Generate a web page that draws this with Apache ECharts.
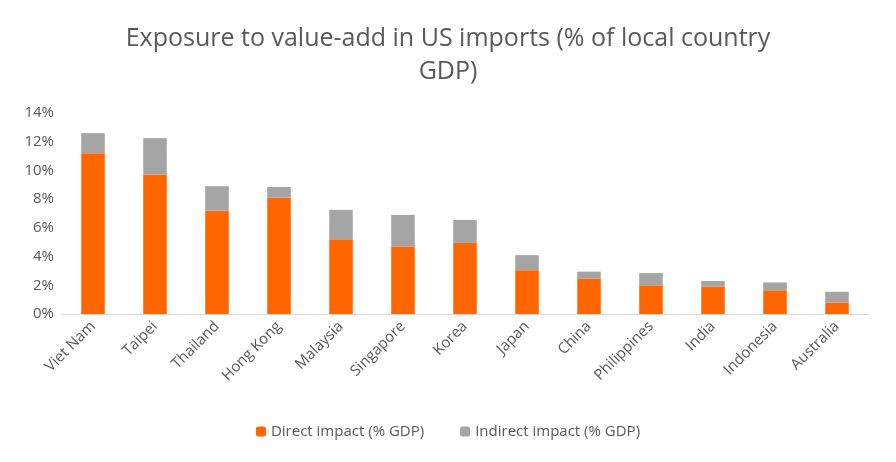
<!DOCTYPE html>
<html><head><meta charset="utf-8">
<script src="https://cdn.jsdelivr.net/npm/echarts@6/dist/echarts.min.js"></script>
<style>html,body{margin:0;padding:0;background:#fff}#c{width:896px;height:462px}</style>
</head><body><div id="c"></div>
<script>
var countries = ['Viet Nam', 'Taipei', 'Thailand', 'Hong Kong', 'Malaysia', 'Singapore', 'Korea', 'Japan', 'China', 'Philippines', 'India', 'Indonesia', 'Australia'];
var direct = [11.2, 9.7, 7.2, 8.1, 5.2, 4.7, 4.95, 3.05, 2.45, 2.0, 1.9, 1.65, 0.8];
var indirect = [1.4, 2.55, 1.7, 0.75, 2.05, 2.2, 1.6, 1.05, 0.5, 0.85, 0.4, 0.55, 0.75];

var myChart = echarts.init(document.getElementById('c'));
var option = {
  textStyle: { fontFamily: 'Open Sans' },
  title: {
    text: 'Exposure to value-add in US imports (% of local country\nGDP)',
    left: 'center', top: 17,
    textStyle: { fontSize: 25, fontWeight: 'normal', color: '#595959', lineHeight: 33 }
  },
  legend: {
    bottom: 18, itemWidth: 10, itemHeight: 10, itemGap: 36,
    textStyle: { fontSize: 15, color: '#595959' },
    data: ['Direct impact (% GDP)', 'Indirect impact (% GDP)']
  },
  grid: { left: 62, right: 28, top: 113, bottom: 148 },
  xAxis: {
    type: 'category', data: countries,
    axisLine: { lineStyle: { color: '#d9d9d9' } },
    axisTick: { show: false },
    axisLabel: { rotate: 45, fontSize: 15, color: '#595959', margin: 10 }
  },
  yAxis: {
    type: 'value', min: 0, max: 14, interval: 2,
    axisLabel: { formatter: '{value}%', fontSize: 15, color: '#595959' },
    splitLine: { show: false }
  },
  series: [
    { name: 'Direct impact (% GDP)', type: 'bar', stack: 't', barWidth: '38%', itemStyle: { color: '#FF6600' }, data: direct },
    { name: 'Indirect impact (% GDP)', type: 'bar', stack: 't', itemStyle: { color: '#A5A5A5' }, data: indirect }
  ]
};
option && myChart.setOption(option);
</script></body></html>
